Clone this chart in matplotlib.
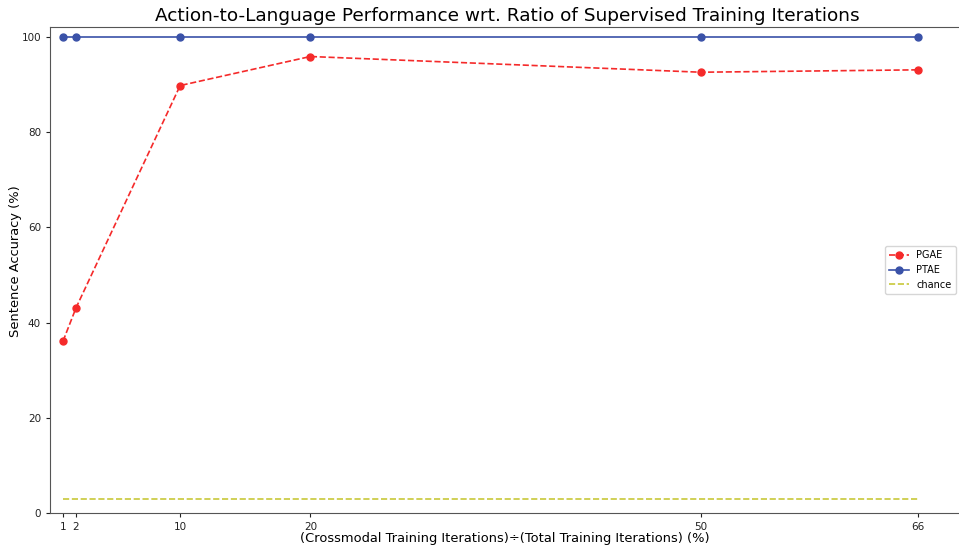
import matplotlib
matplotlib.use('Agg')
import matplotlib.pyplot as plt

ratios = [1, 2, 10, 20, 50, 66.67]
tick_labels = ['1', '2', '10', '20', '50', '66']
pgae = [36.1, 43.1, 89.8, 95.9, 92.6, 93.1]
ptae = [100, 100, 100, 100, 100, 100]
chance = [2.86, 2.86, 2.86, 2.86, 2.86, 2.86]

fig = plt.figure(figsize=(9.59, 5.49), dpi=100)
ax = fig.add_axes([50 / 959, 36 / 549, 915 / 959, 486 / 549])

ax.plot(ratios, pgae, 'o--', color='#f52a2a', label='PGAE', linewidth=1.2, markersize=5)
ax.plot(ratios, ptae, 'o-', color='#3a52a8', label='PTAE', linewidth=1.2, markersize=5)
ax.plot(ratios, chance, '--', color='#c8c83a', label='chance', linewidth=1.2)

ax.set_xticks(ratios, tick_labels)
ax.set_xlim(0, 70.3)
ax.set_ylim(0, 102.1)
ax.tick_params(labelsize=7.5, colors='#222222', length=3)
for s in ax.spines.values():
    s.set_color('#555555')

ax.set_title('Action-to-Language Performance wrt. Ratio of Supervised Training Iterations', fontsize=13.3, pad=4)
ax.set_xlabel('(Crossmodal Training Iterations)÷(Total Training Iterations) (%)', fontsize=9.4)
ax.set_ylabel('Sentence Accuracy (%)', fontsize=9.4)
ax.xaxis.set_label_coords(0.5 - 3 / 915, -19 / 486)
ax.yaxis.set_label_coords(-28 / 915, 0.5 + 9 / 486)
ax.legend(loc='center right', fontsize=7, bbox_to_anchor=(0.995, 0.5))

fig.savefig('out.png', dpi=100)
